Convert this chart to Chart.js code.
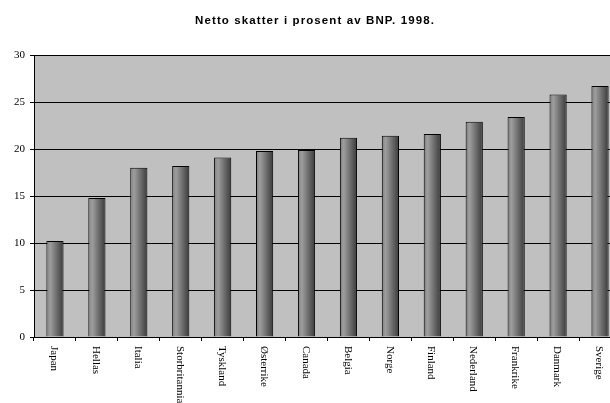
<!DOCTYPE html>
<html>
<head>
<meta charset="utf-8">
<script src="https://cdn.jsdelivr.net/npm/chart.js@4"></script>
<style>
  html, body { margin: 0; padding: 0; background: #fff; overflow: hidden; }
  /* the plot runs a little past the right edge in the original, so the canvas is wider than the window */
  #wrap { width: 621px; height: 403px; }
</style>
</head>
<body>
<div id="wrap"><canvas id="c"></canvas></div>
<script>
const TITLE = 'Netto skatter i prosent av BNP. 1998.';
const countries = ['Japan', 'Hellas', 'Italia', 'Storbritannia', 'Tyskland', 'Østerrike', 'Canada',
  'Belgia', 'Norge', 'Finland', 'Nederland', 'Frankrike', 'Danmark', 'Sverige'];
const taxShare = [10.2, 14.8, 18.0, 18.2, 19.1, 19.8, 19.9, 21.2, 21.4, 21.6, 22.9, 23.4, 25.8, 26.7];
const yTicks = [0, 5, 10, 15, 20, 25, 30];

const BAR_PCT = 0.41;
const SERIF = '"Liberation Serif", "Times New Roman", serif';

// gradient per bar, light on the left, dark on the right
const barFill = (ctx) => {
  const chart = ctx.chart;
  const area = chart.chartArea;
  if (!area || !chart.scales.x) return '#777';
  const xs = chart.scales.x;
  const cx = xs.getPixelForValue(ctx.dataIndex);
  const w = (area.width / countries.length) * BAR_PCT;
  const g = chart.ctx.createLinearGradient(cx - w / 2, 0, cx + w / 2, 0);
  g.addColorStop(0, '#7c7c7c');
  g.addColorStop(0.22, '#9e9e9e');
  g.addColorStop(1, '#3a3a3a');
  return g;
};

const plotBg = {
  id: 'plotBg',
  beforeDraw(chart) {
    const { ctx, chartArea: a } = chart;
    ctx.save();
    ctx.fillStyle = '#c0c0c0';
    ctx.fillRect(a.left, a.top, a.right - a.left, a.bottom - a.top);
    ctx.restore();
  }
};

// title with a bit of letter spacing + labels reading top to bottom
const textBits = {
  id: 'textBits',
  afterDraw(chart) {
    const { ctx, chartArea: a } = chart;
    const xs = chart.scales.x;
    ctx.save();
    ctx.fillStyle = '#000';
    ctx.font = 'bold 11.5px "Liberation Sans", Arial, sans-serif';
    ctx.letterSpacing = '1.1px';
    ctx.textAlign = 'center';
    ctx.textBaseline = 'alphabetic';
    ctx.fillText(TITLE, 315, 23.5);
    ctx.letterSpacing = '0px';

    ctx.font = '11px ' + SERIF;
    ctx.textAlign = 'left';
    ctx.textBaseline = 'middle';
    countries.forEach((name, i) => {
      const x = xs.getPixelForValue(i);
      ctx.save();
      ctx.translate(x - 1, a.bottom + 9);
      ctx.rotate(Math.PI / 2);
      ctx.fillText(name, 0, 0);
      ctx.restore();
    });
    ctx.restore();
  }
};

new Chart(document.getElementById('c'), {
  type: 'bar',
  plugins: [plotBg, textBits],
  data: {
    labels: countries,
    datasets: [{
      data: taxShare,
      backgroundColor: barFill,
      borderColor: '#000',
      borderWidth: 1,
      borderSkipped: 'bottom',
      categoryPercentage: 1,
      barPercentage: BAR_PCT,
    }],
  },
  options: {
    responsive: true,
    maintainAspectRatio: false,
    animation: false,
    events: [],
    layout: { padding: { top: 55, bottom: 62, left: 0, right: 0 } },
    plugins: {
      legend: { display: false },
      title: { display: false },
      tooltip: { enabled: false },
    },
    scales: {
      x: {
        offset: true,
        ticks: { display: false },
        grid: {
          offset: true,
          drawOnChartArea: false,
          drawTicks: true,
          tickLength: 4,
          color: '#000',
        },
        border: { display: true, color: '#000' },
      },
      y: {
        min: 0,
        max: 30,
        afterBuildTicks: (s) => { s.ticks = yTicks.map(v => ({ value: v })); },
        afterFit: (s) => { s.width = 34; },
        ticks: {
          color: '#000',
          padding: 5,
          font: { family: SERIF, size: 11 },
        },
        grid: { color: '#000', tickLength: 4 },
        border: { display: true, color: '#000' },
      },
    },
  },
});
</script>
</body>
</html>
